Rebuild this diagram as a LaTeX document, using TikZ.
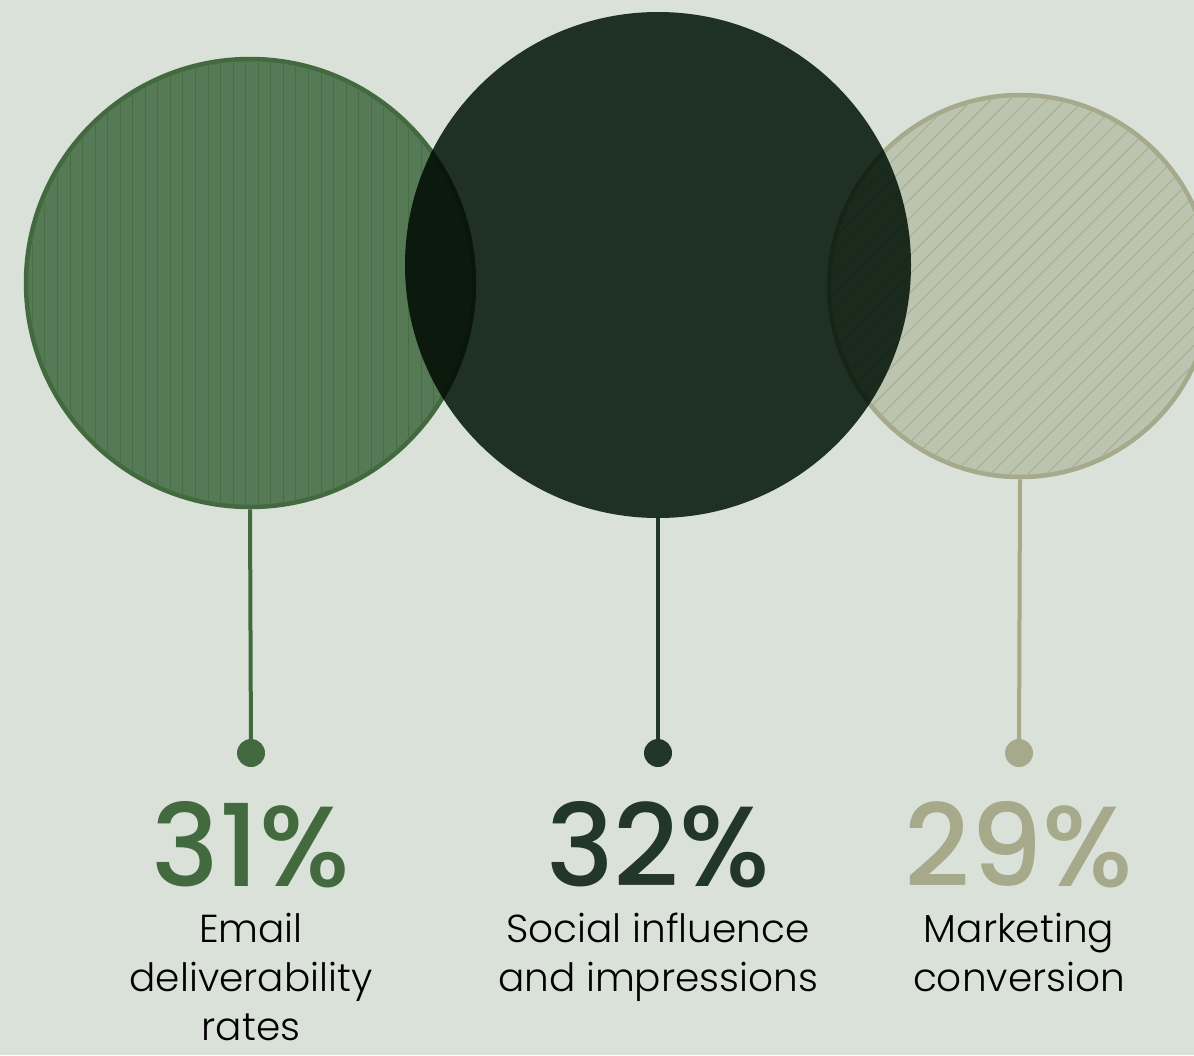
\documentclass[tikz,border=0pt]{standalone}
\usepackage{fontspec}
\setmainfont{Poppins}
\newfontfamily\numfont{Poppins Medium}
\newfontfamily\lblfont{Poppins Light}
\usetikzlibrary{positioning}

\definecolor{bgcol}{HTML}{DAE1D9}
\definecolor{greenfill}{HTML}{567A55}
\definecolor{greenline}{HTML}{436A3F}
\definecolor{greenhatch}{HTML}{476D44}
\definecolor{darkfill}{HTML}{24382B}
\definecolor{darktext}{HTML}{223729}
\definecolor{sagefill}{HTML}{BCC4B0}
\definecolor{sageline}{HTML}{A6A98A}
\definecolor{sagehatch}{HTML}{A9AE91}

\begin{document}
\begin{tikzpicture}[x=1pt,y=-1pt,node distance=20pt,
  bubble/.style={circle,inner sep=0pt},
  stem/.style={line width=4pt},
  dot/.style={circle,inner sep=0pt,minimum size=28pt},
  pct/.style={inner sep=0pt,font=\numfont\fontsize{114}{114}\selectfont},
  lbl/.style={inner sep=0pt,align=center,font=\lblfont\fontsize{39}{49}\selectfont}]

\fill[bgcol] (0,0) rectangle (1194,1055);
\clip (0,0) rectangle (1194,1055);

% circles
\node[bubble,minimum size=448pt,fill=greenfill,draw=greenline,line width=4.5pt] (email) at (250,283) {};
\begin{scope}
\clip (email.center) circle (221pt);
\foreach \k in {0,...,36}
  \draw[greenhatch,line width=1pt] ({32.35+12.55*\k},50) -- ({32.35+12.55*\k},520);
\end{scope}

\node[bubble,minimum size=382pt,fill=sagefill,draw=sageline,line width=4.5pt] (market) at (1020,286) {};
\begin{scope}
\clip (market.center) circle (188.5pt);
\foreach \k in {-14,...,33}
  \draw[sagehatch,line width=1pt] ({628+18.7*\k},500) -- ({1068+18.7*\k},60);
\end{scope}

\begin{scope}[blend mode=multiply]
\node[bubble,minimum size=506pt,fill=darkfill] (social) at (658,265) {};
\end{scope}

% dots
\node[dot,fill=greenline] (emaildot) at (251,753) {};
\node[dot,fill=darktext] (socialdot) at (658,753) {};
\node[dot,fill=sageline] (marketdot) at (1019,753) {};

\draw[stem,greenline] (email.south) -- (emaildot);
\draw[stem,darktext] (social.south) -- (socialdot);
\draw[stem,sageline] (market.south) -- (marketdot);

% numbers
\node[pct,text=greenline,below=34pt of emaildot] (emailpct) {31\%};
\node[pct,text=darktext,below=34pt of socialdot] (socialpct) {32\%};
\node[pct,text=sageline,below=34pt of marketdot] (marketpct) {29\%};

% labels
\node[lbl,below=25pt of emailpct] (emaillbl) {Email\\deliverability\\rates};
\node[lbl,below=25pt of socialpct] (sociallbl) {Social influence\\and impressions};
\node[lbl,below=25pt of marketpct] (marketlbl) {Marketing\\conversion};
\end{tikzpicture}
\end{document}
